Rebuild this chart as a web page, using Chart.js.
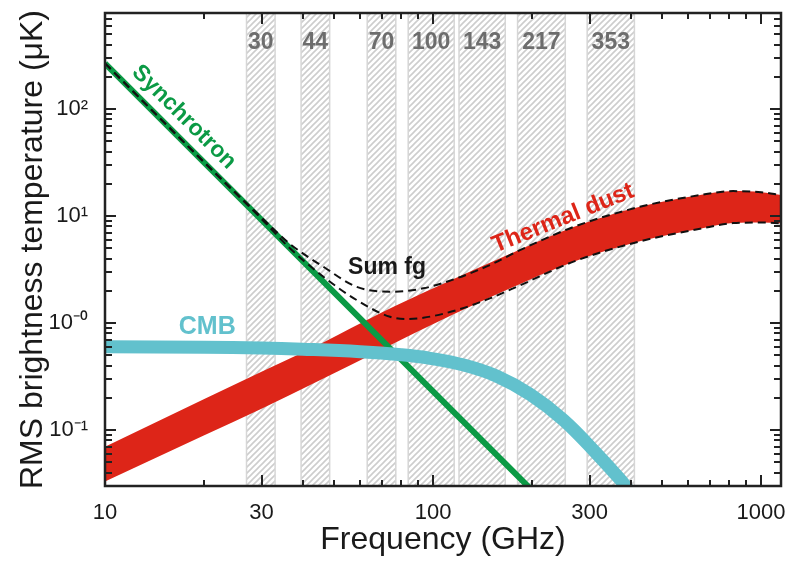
<!DOCTYPE html>
<html>
<head>
<meta charset="utf-8">
<script src="https://cdn.jsdelivr.net/npm/chart.js@4/dist/chart.umd.min.js"></script>
<style>
  html, body { margin: 0; padding: 0; background: #fff; }
  #wrap { width: 792px; height: 563px; }
</style>
</head>
<body>
<div id="wrap"><canvas id="chart"></canvas></div>
<script>
// Planck frequency bands (GHz)
const bandNames = ['30', '44', '70', '100', '143', '217', '353'];
const bandLo = [27, 39.6, 63, 84, 120, 181, 295];
const bandHi = [33, 48.4, 77, 116, 166, 253, 411];

// Synchrotron (uK)
const syncFreq = [10, 30, 100, 200];
const syncT = [267, 9.2, 0.23, 0.0275];

// Thermal dust, upper and lower edge of the band
const dustFreq = [10, 20, 30, 45, 70, 105, 168, 268, 427, 652, 822, 1000, 1150];
const dustHi = [0.070, 0.194, 0.35, 0.63, 1.26, 2.25, 4.3, 7.9, 12.2, 15.7, 17.1, 16.7, 15.7];
const dustLo = [0.033, 0.089, 0.158, 0.29, 0.57, 1.05, 2.05, 3.75, 5.8, 7.6, 8.6, 8.7, 8.55];

// CMB
const cmbFreq = [10, 20, 30, 40, 60, 80, 98, 124, 156, 198, 250, 315, 371, 400];
const cmbT = [0.60, 0.595, 0.585, 0.57, 0.54, 0.505, 0.468, 0.405, 0.32, 0.215, 0.124, 0.0605, 0.0348, 0.026];

// Sum of foregrounds (dashed)
const sumHiFreq = [10, 20, 30, 36.6, 46.3, 58.5, 73.9, 93.4, 118, 149, 184, 268, 427, 652, 822, 1000, 1150];
const sumHiT = [267, 32.2, 9.7, 5.5, 3.36, 2.18, 1.96, 2.11, 2.62, 3.48, 4.8, 7.9, 12.2, 15.7, 17.1, 16.7, 15.7];
const sumLoFreq = [10, 20, 30, 36.6, 46.3, 58.5, 73.9, 83.2, 93.4, 118, 149, 184, 268, 427, 652, 822, 1000, 1150];
const sumLoT = [267, 32, 9.4, 5.0, 2.71, 1.64, 1.145, 1.09, 1.12, 1.32, 1.70, 2.25, 3.75, 5.8, 7.6, 8.6, 8.7, 8.55];

// Axes
const xMin = 10, xMax = 1150, yMin = 0.03, yMax = 790;
const xTickLabels = [10, 30, 100, 300, 1000];
const yLabelVals = [0.1, 1, 10, 100];
const yLabelText = ['10\u207B\u00B9', '10\u207B\u2070', '10\u00B9', '10\u00B2'];

// minor tick values: 1..9 x each decade, inside the axis range
function logTicks(lo, hi) {
  const out = [];
  for (let d = -2; d <= 3; d++) {
    for (let m = 1; m <= 9; m++) {
      const v = +(m * Math.pow(10, d)).toPrecision(3);
      if (v >= lo - 1e-9 && v <= hi + 1e-9) out.push(v);
    }
  }
  return out;
}
const xTicks = logTicks(xMin, 1000);
const yTicks = logTicks(yMin, yMax);

const pts = (xs, ys) => xs.map((v, i) => ({ x: v, y: ys[i] }));

// hatch pattern for the bands
const pc = document.createElement('canvas');
pc.width = 6; pc.height = 6;
const pg = pc.getContext('2d');
pg.fillStyle = '#ffffff';
pg.fillRect(0, 0, 6, 6);
pg.strokeStyle = '#cdcdcd';
pg.lineWidth = 1.6;
pg.beginPath();
pg.moveTo(-1, 7); pg.lineTo(7, -1);
pg.moveTo(-4, 4); pg.lineTo(4, -4);
pg.moveTo(2, 10); pg.lineTo(10, 2);
pg.stroke();

const ctx = document.getElementById('chart').getContext('2d');
const hatch = ctx.createPattern(pc, 'repeat');

const RED = '#dd2518';
const GREEN = '#0b9a45';
const CYAN = '#62c1cd';

const bandSets = bandNames.map((n, i) => ({
  label: 'band ' + n,
  data: [{ x: bandLo[i], y: yMin }, { x: bandLo[i], y: yMax }, { x: bandHi[i], y: yMax }, { x: bandHi[i], y: yMin }],
  fill: 'start',
  backgroundColor: hatch,
  borderColor: '#d6d6d6',
  borderWidth: 1.5,
  tension: 0,
  order: 20
}));

const curveTags = [
  { text: 'Synchrotron', f: 17.4, T: 84, rot: 45, size: 23, color: GREEN },
  { text: 'Thermal dust', f: 249, T: 9.5, rot: -22, size: 24, color: RED },
  { text: 'CMB', f: 20.5, T: 0.92, rot: 0, size: 25, color: CYAN },
  { text: 'Sum fg', f: 72.4, T: 3.27, rot: 0, size: 23, color: '#1a1a1a' }
];

const textPlugin = {
  id: 'texts',
  afterDatasetsDraw(chart) {
    const { ctx, chartArea, scales: { x, y } } = chart;
    ctx.save();
    ctx.textAlign = 'center';
    ctx.textBaseline = 'middle';
    ctx.font = 'bold 23px "Liberation Sans Narrow", "Liberation Sans", sans-serif';
    ctx.fillStyle = '#6d6d6d';
    bandNames.forEach((n, i) => {
      ctx.fillText(n, x.getPixelForValue(Math.sqrt(bandLo[i] * bandHi[i])), chartArea.top + 30);
    });
    curveTags.forEach(t => {
      ctx.save();
      ctx.translate(x.getPixelForValue(t.f), y.getPixelForValue(t.T));
      ctx.rotate(t.rot * Math.PI / 180);
      ctx.font = 'bold ' + t.size + 'px "Liberation Sans", Arial, sans-serif';
      ctx.fillStyle = t.color;
      ctx.fillText(t.text, 0, 0);
      ctx.restore();
    });
    ctx.restore();
  }
};

// inward ticks on all four sides + frame
const framePlugin = {
  id: 'frame',
  afterDraw(chart) {
    const { ctx, chartArea: { left, right, top, bottom }, scales: { x, y } } = chart;
    ctx.save();
    ctx.strokeStyle = '#222';
    ctx.lineWidth = 2;
    ctx.beginPath();
    xTicks.forEach(v => {
      const px = Math.round(x.getPixelForValue(v));
      const len = xTickLabels.includes(v) ? 11 : 6;
      ctx.moveTo(px, bottom); ctx.lineTo(px, bottom - len);
      ctx.moveTo(px, top); ctx.lineTo(px, top + len);
    });
    yTicks.forEach(v => {
      const py = Math.round(y.getPixelForValue(v));
      const len = yLabelVals.includes(v) ? 11 : 7;
      ctx.moveTo(left, py); ctx.lineTo(left + len, py);
      ctx.moveTo(right, py); ctx.lineTo(right - len, py);
    });
    ctx.stroke();
    ctx.lineWidth = 2.5;
    ctx.strokeRect(left, top, right - left, bottom - top);
    ctx.restore();
  }
};

Chart.defaults.font.family = '"Liberation Sans", Arial, sans-serif';
Chart.defaults.color = '#1a1a1a';

new Chart(ctx, {
  type: 'line',
  data: {
    datasets: [
      {
        label: 'Sum fg high',
        data: pts(sumHiFreq, sumHiT),
        borderColor: '#111',
        borderWidth: 2,
        borderDash: [8, 5],
        cubicInterpolationMode: 'monotone',
        fill: false,
        order: 0
      },
      {
        label: 'Sum fg low',
        data: pts(sumLoFreq, sumLoT),
        borderColor: '#111',
        borderWidth: 2,
        borderDash: [8, 5],
        cubicInterpolationMode: 'monotone',
        fill: false,
        order: 1
      },
      {
        label: 'CMB',
        data: pts(cmbFreq, cmbT),
        borderColor: CYAN,
        borderWidth: 13,
        tension: 0.4,
        fill: false,
        order: 2
      },
      {
        label: 'Synchrotron',
        data: pts(syncFreq, syncT),
        borderColor: GREEN,
        borderWidth: 6,
        tension: 0,
        fill: false,
        order: 3
      },
      {
        label: 'Thermal dust high',
        data: pts(dustFreq, dustHi),
        borderColor: 'rgba(0,0,0,0)',
        borderWidth: 1,
        backgroundColor: RED,
        cubicInterpolationMode: 'monotone',
        fill: '+1',
        order: 4
      },
      {
        label: 'Thermal dust low',
        data: pts(dustFreq, dustLo),
        borderColor: 'rgba(0,0,0,0)',
        borderWidth: 1,
        cubicInterpolationMode: 'monotone',
        fill: false,
        order: 5
      },
      ...bandSets
    ]
  },
  options: {
    responsive: true,
    maintainAspectRatio: false,
    animation: false,
    clip: 0,
    elements: { point: { radius: 0 } },
    layout: { padding: { top: 13, right: 11, left: 0, bottom: 0 } },
    plugins: {
      legend: { display: false },
      tooltip: { enabled: false }
    },
    scales: {
      x: {
        type: 'logarithmic',
        min: xMin,
        max: xMax,
        grid: { display: false },
        border: { display: false },
        afterBuildTicks: s => { s.ticks = xTicks.map(v => ({ value: v })); },
        afterFit: s => { s.height = 77; s.paddingLeft = 0; s.paddingRight = 0; },
        ticks: {
          autoSkip: false,
          maxRotation: 0,
          padding: 6,
          font: { size: 22 },
          color: '#1a1a1a',
          callback: v => xTickLabels.includes(v) ? String(v) : ''
        },
        title: {
          display: true,
          text: 'Frequency (GHz)',
          font: { size: 32 },
          color: '#1a1a1a',
          padding: { top: 0, bottom: 4 }
        }
      },
      y: {
        type: 'logarithmic',
        min: yMin,
        max: yMax,
        grid: { display: false },
        border: { display: false },
        afterBuildTicks: s => { s.ticks = yTicks.map(v => ({ value: v })); },
        afterFit: s => { s.width = 105; s.paddingTop = 0; s.paddingBottom = 0; },
        ticks: {
          autoSkip: false,
          padding: 9,
          font: { size: 22 },
          color: '#1a1a1a',
          callback: v => {
            const i = yLabelVals.indexOf(v);
            return i >= 0 ? yLabelText[i] : '';
          }
        },
        title: {
          display: true,
          text: 'RMS brightness temperature (\u03BCK)',
          font: { size: 32 },
          color: '#1a1a1a',
          padding: { top: 14, bottom: 0 }
        }
      }
    }
  },
  plugins: [textPlugin, framePlugin]
});
</script>
</body>
</html>
